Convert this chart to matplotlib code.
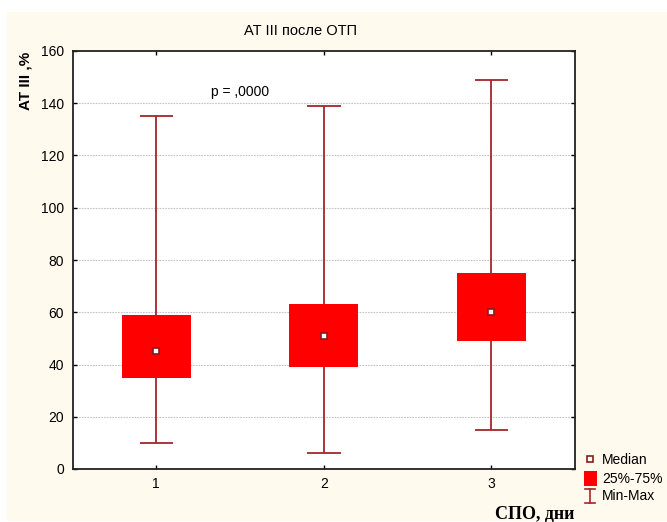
import matplotlib
matplotlib.use("Agg")
import matplotlib.pyplot as plt
from matplotlib.patches import Rectangle
from matplotlib.lines import Line2D
import numpy as np

plt.rcParams['font.family'] = ['Liberation Sans', 'DejaVu Sans']

categories = ["1", "2", "3"]
mins = [10, 6, 15]
maxs = [135, 139, 149]
q1 = [35, 39, 49]
q3 = [59, 63, 75]
medians = [45, 51, 60]
yticks = [0, 20, 40, 60, 80, 100, 120, 140, 160]

W, H = 667, 522
fig = plt.figure(figsize=(W / 100, H / 100), dpi=100, facecolor="white")
fig.patches.append(Rectangle((7 / W, 1 / H), 660 / W, 509 / H, transform=fig.transFigure,
                             facecolor="#FFF9EE", edgecolor="none", zorder=-5))

ax = fig.add_axes([72.5 / W, 1 - 469 / H, (575 - 72.5) / W, (469 - 51) / H])
ax.set_zorder(2)
ax.set_facecolor("white")

x = np.arange(1, len(categories) + 1)
dark = "#A3262A"
ax.vlines(x, mins, maxs, color=dark, lw=1.3, zorder=2)
ax.hlines(mins, x - 0.1, x + 0.1, color=dark, lw=1.3, zorder=2)
ax.hlines(maxs, x - 0.1, x + 0.1, color=dark, lw=1.3, zorder=2)
ax.bar(x, np.array(q3) - np.array(q1), bottom=q1, width=0.41, color="#FF0000", zorder=3)
ax.plot(x, medians, ls="none", marker="s", ms=5, mfc="white", mec="#8B1A1A", mew=1.2, zorder=4)

ax.set_xlim(0.5, 3.5)
ax.set_ylim(0, 160)
ax.set_xticks(x)
ax.set_xticklabels(categories)
ax.set_yticks(yticks)
ax.tick_params(direction="in", length=3, width=1, top=True, right=True, labelsize=10, pad=6)
for yv in yticks[1:-1]:
    ax.axhline(yv, color="#C4C4C4", lw=0.8, ls=(0, (1.5, 1)), zorder=1)
for s in ax.spines.values():
    s.set_color("#222222")
    s.set_linewidth(1.3)

fig.text(301 / W, 1 - 31 / H, "AT III после ОТП", ha="center", va="center", fontsize=10.5)
fig.text(25 / W, 1 - 52 / H, "AT III ,%", ha="center", va="top", rotation=90,
         fontsize=11, fontweight="bold")
fig.text(535 / W, 1 - 514 / H, "СПО, дни", ha="center", va="center", fontsize=13,
         fontweight="bold", family=["Liberation Serif", "DejaVu Serif"])
ax.text(1.5, 144.3, "p = ,0000", fontsize=10, ha="center", va="center")

# legend
fig.add_artist(Line2D([590 / W], [1 - 459 / H], marker="s", ms=5, mfc="white",
                      mec="#8B1A1A", mew=1.2, ls="none", transform=fig.transFigure))
fig.patches.append(Rectangle((584 / W, 1 - 486 / H), 13 / W, 15 / H, transform=fig.transFigure,
                             facecolor="#FF0000", edgecolor="none"))
fig.add_artist(Line2D([590 / W, 590 / W], [1 - 489 / H, 1 - 503 / H], color=dark, lw=1.2,
                      transform=fig.transFigure))
fig.add_artist(Line2D([585 / W, 595 / W], [1 - 489 / H, 1 - 489 / H], color=dark, lw=1.2,
                      transform=fig.transFigure))
fig.add_artist(Line2D([585 / W, 595 / W], [1 - 503 / H, 1 - 503 / H], color=dark, lw=1.2,
                      transform=fig.transFigure))
fig.text(602 / W, 1 - 460 / H, "Median", fontsize=10, va="center")
fig.text(602 / W, 1 - 479 / H, "25%-75%", fontsize=10, va="center")
fig.text(602 / W, 1 - 496 / H, "Min-Max", fontsize=10, va="center")

fig.savefig("out.png", dpi=100, facecolor=fig.get_facecolor())
